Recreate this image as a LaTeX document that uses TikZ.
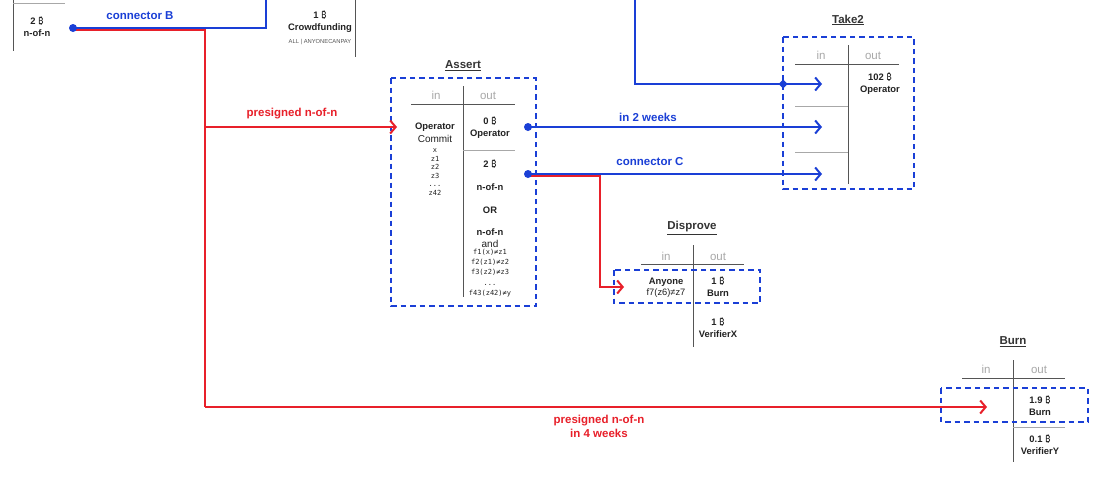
\documentclass[tikz,border=0pt]{standalone}
\usepackage{fontspec}
\setmainfont{Liberation Sans}
\newfontfamily\monof{DejaVu Sans Mono}
\newfontfamily\btcf{Noto Sans}
\usetikzlibrary{arrows.meta}
\definecolor{cblue}{HTML}{1A3FD6}
\definecolor{cred}{HTML}{E8202A}
\definecolor{hgray}{HTML}{A8A8A8}
\definecolor{lgray}{HTML}{555555}
\definecolor{tdark}{HTML}{222222}
\newcommand\btc{{\btcf ₿}}
\tikzset{
  bl/.style={draw=cblue, line width=2pt},
  rl/.style={draw=cred, line width=2pt},
  tipd/.style={-{Straight Barb[length=5.5pt,width=13pt]}},
  dbox/.style={draw=cblue, dash pattern=on 5.5pt off 4pt, line width=1.4pt},
  tline/.style={draw=lgray, line width=0.9pt},
  sline/.style={draw=hgray, line width=0.9pt},
  hdr/.style={text=hgray, inner sep=0pt, anchor=base, font=\fontsize{11.5}{13}\selectfont},
  val/.style={inner sep=0pt, align=center, text=tdark, font=\bfseries\fontsize{9.4}{12}\selectfont},
  plain/.style={inner sep=0pt, align=center, text=tdark, font=\fontsize{10}{11}\selectfont},
  mono/.style={inner sep=0pt, align=center, text=tdark, font=\monof\fontsize{7}{9}\selectfont},
  lbl/.style={inner sep=0pt, align=center, font=\bfseries\fontsize{11.5}{14}\selectfont},
  ttl/.style={inner sep=0pt, text=black!80, font=\bfseries\fontsize{11.5}{13}\selectfont},
  dotn/.style={circle, fill=cblue, inner sep=0pt, minimum size=8pt},
}
\begin{document}
\begin{tikzpicture}[x=1pt,y=-1pt]
\useasboundingbox (0,0) rectangle (1101,482);
\fill[white] (0,0) rectangle (1101,482);

% ---- top-left fragments ----
\draw[tline] (13,-2) -- (13,51);
\draw[sline] (13,3) -- (65,3);
\node[val] (n2b) at (37,27) {2 \btc\\n-of-n};
\node[inner sep=0pt, text=cred, font=\bfseries\fontsize{8}{9}\selectfont] (sig) at (190,-4) {signature: single | anyonecanpay};
\node[lbl, text=cblue] (cB) at (140,16) {connector B};
\draw[tline] (355,-2) -- (355,57);
\node[val] (cf) at (320,22) {1 \btc\\Crowdfunding};
\node[inner sep=0pt, text=lgray, font=\fontsize{5.8}{6}\selectfont] (acp) at (320,42) {ALL | ANYONECANPAY};

% ---- Assert ----
\node[ttl] (tAssert) at (463,66) {\underline{Assert}};
\draw[dbox] (391,78) rectangle (536,306);
\node[hdr] (aIn) at (436,99) {in};
\node[hdr] (aOut) at (488,99) {out};
\draw[tline] (411,104) -- (515,104);
\draw[tline] (463,86) -- (463,297);
\draw[sline] (463,150) -- (515,150);
\node[val] (aop) at (435,127) {Operator};
\node[plain] (acm) at (435,138.5) {Commit};
\node[mono, font=\monof\fontsize{7}{8.6}\selectfont] (az) at (435,172) {x\\z1\\z2\\z3\\...\\z42};
\node[val] (a0) at (490,128) {0 \btc\\Operator};
\node[val] (a2) at (490,164) {2 \btc};
\node[val] (anofn) at (490,187) {n-of-n};
\node[val] (aor) at (490,210) {OR};
\node[val] (anofn2) at (490,232.5) {n-of-n};
\node[plain] (aand) at (490,244) {and};
\node[mono, font=\monof\fontsize{7}{10.2}\selectfont] (af) at (490,273) {f1(x)≠z1\\f2(z1)≠z2\\f3(z2)≠z3\\...\\f43(z42)≠y};

% ---- Take2 ----
\node[ttl] (tTake) at (848,20) {\underline{Take2}};
\draw[dbox] (783,37) rectangle (914,189);
\node[hdr] (tIn) at (821,59) {in};
\node[hdr] (tOut) at (873,59) {out};
\draw[tline] (795,64) -- (899,64);
\draw[tline] (848,45) -- (848,184);
\draw[sline] (795,106) -- (848,106);
\draw[sline] (795,152) -- (848,152);
\node[val] (t102) at (880,84) {102 \btc\\Operator};

% ---- Disprove ----
\node[ttl] (tDis) at (692,228) {\underline{Disprove}};
\node[hdr] (dIn) at (666,260) {in};
\node[hdr] (dOut) at (718,260) {out};
\draw[tline] (641,264) -- (744,264);
\draw[tline] (693,245) -- (693,347);
\draw[dbox] (614,270) rectangle (760,303);
\node[val] (dany) at (666,282) {Anyone};
\node[plain, font=\fontsize{9.3}{10}\selectfont] (df) at (666,293.5) {f7(z6)≠z7};
\node[val] (dburn) at (718,287) {1 \btc\\Burn};
\node[val] (dver) at (718,327.5) {1 \btc\\VerifierX};

% ---- Burn ----
\node[ttl] (tBurn) at (1013,342) {\underline{Burn}};
\node[hdr] (bIn) at (986,373) {in};
\node[hdr] (bOut) at (1039,373) {out};
\draw[tline] (962,378) -- (1065,378);
\draw[tline] (1013,360) -- (1013,462);
\draw[sline] (1013,427) -- (1065,427);
\draw[dbox] (941,388) rectangle (1088,422);
\node[val] (bburn) at (1040,406) {1.9 \btc\\Burn};
\node[val] (bver) at (1040,444.5) {0.1 \btc\\VerifierY};

% ---- coordinates ----
\coordinate (dB) at (73,28);
\coordinate (dBr) at (73,29.8);
\coordinate (cBtop) at (266,-3);
\coordinate (fund) at (635,-3);
\coordinate (t1) at (822,84);
\coordinate (t2) at (822,127);
\coordinate (t3) at (822,174);
\coordinate (aIn1) at (397,127);
\coordinate (dIn1) at (624,287);
\coordinate (bIn1) at (987,407);
\coordinate (ao1) at (528,127);
\coordinate (ao2) at (528,174);
\coordinate (ao2r) at (528,175.8);

% ---- connectors ----
\draw[bl] (dB) -| (cBtop);
\draw[bl, tipd] (fund) |- (t1);
\draw[rl] (dBr) -- (205,29.8) -- (205,407);
\draw[rl, tipd] (205,127) -- (aIn1);
\draw[rl, tipd] (205,407) -- (bIn1);
\draw[bl, tipd] (ao1) -- (t2);
\draw[bl, tipd] (ao2) -- (t3);
\draw[rl, tipd] (ao2r) -- (600,175.8) |- (dIn1);
\node[dotn] (dotB) at (dB) {};
\node[dotn] (dotA1) at (ao1) {};
\node[dotn] (dotA2) at (ao2) {};
\fill[cblue] (783,79.5) -- (787.5,84) -- (783,88.5) -- (778.5,84) -- cycle;

% ---- connector labels ----
\node[lbl, text=cred] (lp1) at (292,114) {presigned n-of-n};
\node[lbl, text=cblue] (l2w) at (648,117) {in 2 weeks};
\node[lbl, text=cblue] (lC) at (650,162) {connector C};
\node[lbl, text=cred] (lp2) at (599,426) {presigned n-of-n\\in 4 weeks};
\end{tikzpicture}
\end{document}
